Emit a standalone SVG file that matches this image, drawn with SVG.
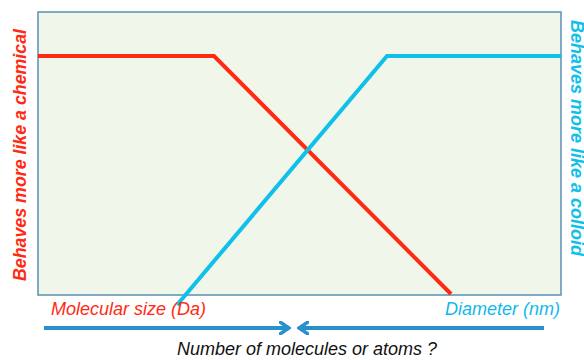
<svg xmlns="http://www.w3.org/2000/svg" width="584" height="360" viewBox="0 0 584 360">
<defs>
<style>
.t{font-family:"Liberation Sans",Arial,sans-serif;font-style:italic}
.b{font-weight:bold}
.curve{fill:none;stroke-width:4;stroke-linejoin:miter}
.arr{fill:none;stroke:#2a90cb;stroke-width:4}
</style>
<marker id="head" markerWidth="12" markerHeight="14" refX="10" refY="7" orient="auto" markerUnits="userSpaceOnUse">
<path d="M1,1 L10,7 L1,13" fill="none" stroke="#2a90cb" stroke-width="3.5" stroke-linecap="round"/>
</marker>
</defs>
<rect width="584" height="360" fill="#ffffff"/>
<g id="plot">
<rect x="38" y="12" width="523" height="283" fill="#f1f6ea" stroke="#5b8fb3" stroke-width="1.5"/>
</g>
<g id="curves">
<polyline class="curve" stroke="#ff2a12" points="38,56 214,56 451,294"/>
<polyline class="curve" stroke="#0ec0ea" points="177,305 387,56 561,56"/>
</g>
<g id="connectors">
<line class="arr" x1="44" y1="328" x2="289" y2="328" marker-end="url(#head)"/>
<line class="arr" x1="544" y1="328" x2="299" y2="328" marker-end="url(#head)"/>
</g>
<g id="labels">
<text class="t b" font-size="17.8" fill="#ff2a12" transform="translate(26,155) rotate(-90)" text-anchor="middle">Behaves more like a chemical</text>
<text class="t b" font-size="18" fill="#0ec0ea" transform="translate(571,20) rotate(90)">Behaves more like a colloid</text>
<text class="t" font-size="18" fill="#ff2a12" x="51" y="315">Molecular size (Da)</text>
<text class="t" font-size="18" fill="#12b8ea" x="560" y="315" text-anchor="end">Diameter (nm)</text>
<text class="t" font-size="18" fill="#111111" x="307" y="355" text-anchor="middle">Number of molecules or atoms ?</text>
</g>
</svg>
